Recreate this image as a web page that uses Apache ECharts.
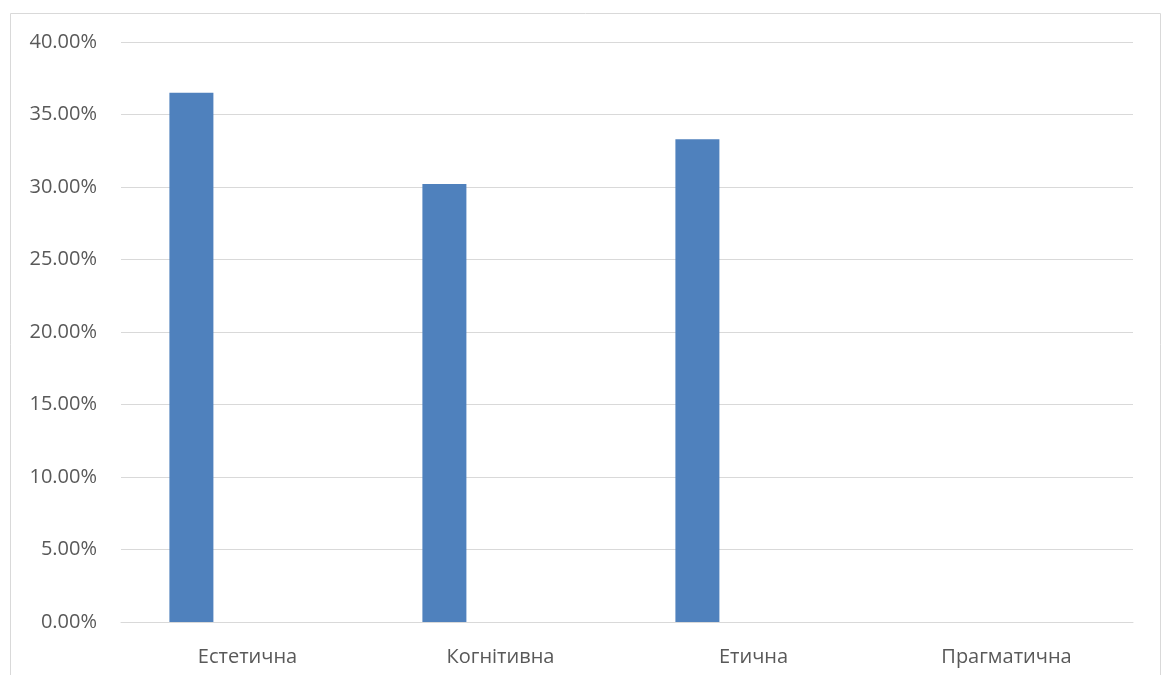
<!DOCTYPE html>
<html>
<head>
<meta charset="utf-8">
<script src="https://cdn.jsdelivr.net/npm/echarts@6/dist/echarts.min.js"></script>
<style>
  html, body { margin: 0; padding: 0; background: #fff; }
  #chart { width: 1165px; height: 675px; }
</style>
</head>
<body>
<div id="chart"></div>
<script>
// categories and values (share, %)
const categories = ['Естетична', 'Когнітивна', 'Етична', 'Прагматична'];
const values = [36.5, 30.2, 33.3, 0];
// the second series is empty in the original, it only shifts the bars left
const emptySeries = [null, null, null, null];
const yTicks = { min: 0, max: 40, interval: 5 };

const chartDom = document.getElementById('chart');
const myChart = echarts.init(chartDom);

const labelFont = { fontFamily: 'Open Sans', fontSize: 20, color: '#595959' };

const option = {
  animation: false,
  // outer frame of the chart object
  graphic: [{
    type: 'rect',
    shape: { x: 10.5, y: 13.5, width: 1150, height: 700 },
    style: { fill: 'none', stroke: '#d9d9d9', lineWidth: 1 },
    silent: true
  }],
  grid: { left: 121, right: 32, top: 42, bottom: 53 },
  xAxis: {
    type: 'category',
    data: categories,
    axisLine: { show: true, lineStyle: { color: '#d9d9d9' } },
    axisTick: { show: false },
    axisLabel: Object.assign({ margin: 25 }, labelFont)
  },
  yAxis: {
    type: 'value',
    min: yTicks.min,
    max: yTicks.max,
    interval: yTicks.interval,
    axisLine: { show: false },
    axisTick: { show: false },
    splitLine: { lineStyle: { color: '#d9d9d9', width: 1 } },
    axisLabel: Object.assign({
      margin: 24,
      formatter: v => v.toFixed(2) + '%'
    }, labelFont)
  },
  series: [
    {
      type: 'bar',
      data: values,
      barWidth: 44,
      barGap: '155%',
      itemStyle: { color: '#4F81BD' }
    },
    {
      type: 'bar',
      data: emptySeries,
      barWidth: 44,
      itemStyle: { color: '#C0504D' }
    }
  ]
};

option && myChart.setOption(option);
</script>
</body>
</html>
